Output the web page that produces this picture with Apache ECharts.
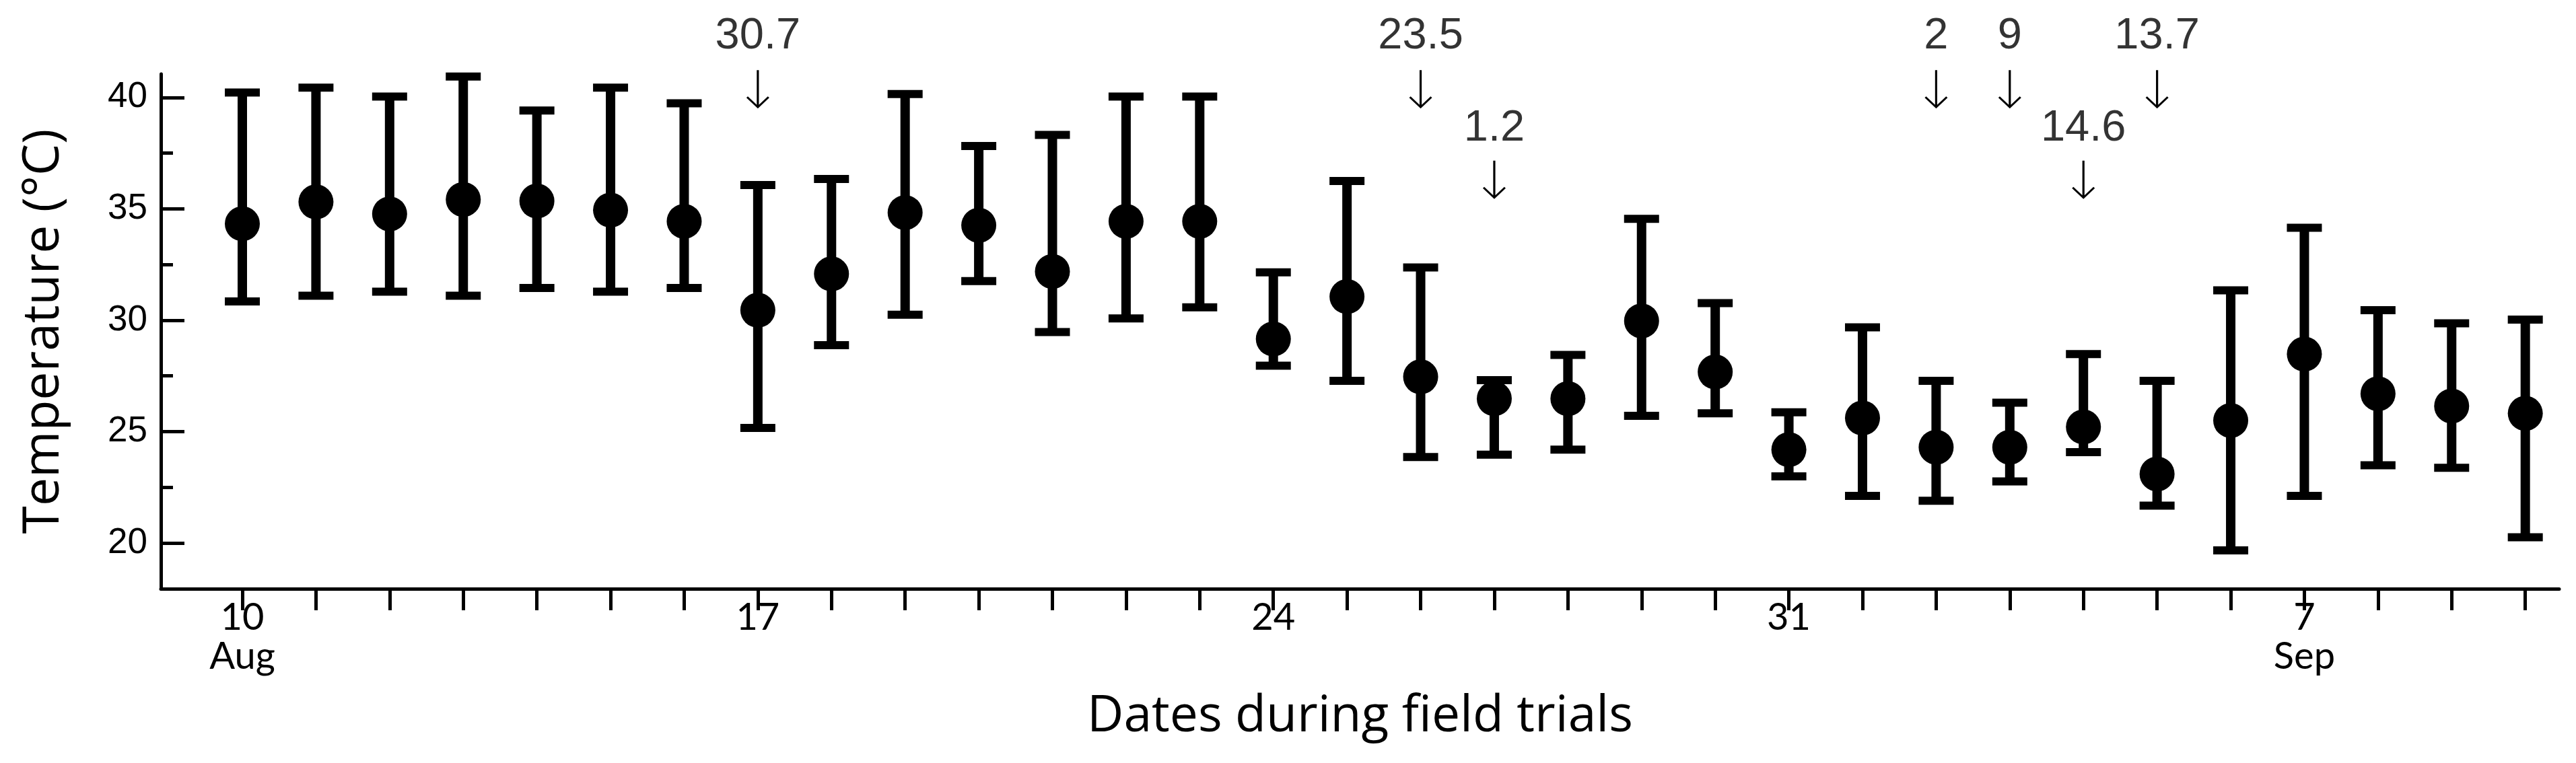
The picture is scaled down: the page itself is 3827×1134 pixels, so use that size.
<!DOCTYPE html>
<html><head><meta charset="utf-8">
<script src="https://cdn.jsdelivr.net/npm/echarts@6/dist/echarts.min.js"></script>
<style>html,body{margin:0;padding:0;background:#fff}#c{width:3827px;height:1134px}</style>
</head><body><div id="c"></div>
<script>
// ---- data ----
const dates = ['Aug 10','Aug 11','Aug 12','Aug 13','Aug 14','Aug 15','Aug 16','Aug 17','Aug 18','Aug 19','Aug 20','Aug 21','Aug 22','Aug 23','Aug 24','Aug 25','Aug 26','Aug 27','Aug 28','Aug 29','Aug 30','Aug 31','Sep 1','Sep 2','Sep 3','Sep 4','Sep 5','Sep 6','Sep 7','Sep 8','Sep 9','Sep 10'];
const meanTemp  = [34.33,35.31,34.77,35.42,35.35,34.94,34.44,30.45,32.08,34.83,34.26,32.19,34.44,34.44,29.16,31.06,27.46,26.48,26.48,29.97,27.68,24.19,25.61,24.30,24.30,25.21,23.10,25.50,28.48,26.70,26.15,25.82];
const upperTemp = [40.22,40.44,40.04,40.94,39.41,40.44,39.74,36.07,36.34,40.15,37.82,38.32,40.04,40.04,32.15,36.25,32.37,27.31,28.44,34.55,30.77,25.87,29.68,27.28,26.30,28.48,27.28,31.34,34.15,30.45,29.86,30.03];
const lowerTemp = [30.84,31.10,31.28,31.10,31.45,31.28,31.45,25.17,28.88,30.25,31.76,29.47,30.08,30.58,27.96,27.28,23.86,23.97,24.19,25.71,25.82,22.99,22.12,21.90,22.77,24.08,21.68,19.67,22.12,23.49,23.38,20.26];
const yTickMajor = [20,25,30,35,40];
const yTickMinor = [22.5,27.5,32.5,37.5];
const xLabelDates = ['Aug 10','Aug 17','Aug 24','Aug 31','Sep 7'];
const xLabelTexts = ['10\nAug','17','24','31','7\nSep'];
const rainDates = ['Aug 17','Aug 26','Aug 27','Sep 2','Sep 3','Sep 4','Sep 5'];
const rainTexts = ['30.7','23.5','1.2','2','9','14.6','13.7'];

// ---- layout ----
const rainRow = [1,1,2,1,1,2,1];
const rowTextY = {1: 42.73, 2: 38.59};
const rowArrowY = {1: 40.36, 2: 36.30};
const arrowPath = 'path://M15.5,0 L18.5,0 L18.5,51 L31,38.5 L33,40.5 L17,56.5 L1,40.5 L3,38.5 L15.5,51 Z';

const chart = echarts.init(document.getElementById('c'), null, {renderer:'canvas'});
const idx = d => dates.indexOf(d);

const option = {
  backgroundColor: '#fff',
  animation: false,
  grid: {left: 239, right: 25, top: 110, bottom: 259},
  xAxis: {
    type: 'value', min: -1.106, max: 31.46,
    axisLine: {show: true, onZero: false, lineStyle: {color: '#000', width: 5}},
    axisTick: {show: true, inside: false, length: 32, lineStyle: {color: '#000', width: 5},
      customValues: dates.map((d, i) => i)},
    axisLabel: {show: true, customValues: xLabelDates.map(idx), margin: 14,
      formatter: v => xLabelTexts[xLabelDates.indexOf(dates[Math.round(v)])] || '',
      fontFamily: 'Lato', fontSize: 56, lineHeight: 58, color: '#000'},
    splitLine: {show: false},
    name: 'Dates during field trials', nameLocation: 'middle', nameGap: 153,
    nameTextStyle: {fontFamily: 'Open Sans', fontSize: 75, color: '#000'}
  },
  yAxis: [{
    type: 'value', min: 17.95, max: 41.05,
    axisLine: {show: true, onZero: false, lineStyle: {color: '#000', width: 5}},
    axisTick: {show: true, inside: true, length: 35, lineStyle: {color: '#000', width: 5}, customValues: yTickMajor},
    axisLabel: {show: true, customValues: yTickMajor, margin: 20, fontFamily: 'Liberation Sans', fontSize: 53, color: '#000'},
    splitLine: {show: false},
    name: 'Temperature (°C)', nameLocation: 'middle', nameGap: 136, nameRotate: 90,
    nameTextStyle: {fontFamily: 'Open Sans', fontSize: 75, color: '#000'}
  }, {
    type: 'value', min: 17.95, max: 41.05, position: 'left',
    axisLine: {show: false, onZero: false},
    axisTick: {show: true, inside: true, length: 18, lineStyle: {color: '#000', width: 5}, customValues: yTickMinor},
    axisLabel: {show: false},
    splitLine: {show: false}
  }],
  series: [{
    type: 'custom',
    data: dates.map((d, i) => [i, lowerTemp[i], upperTemp[i]]),
    renderItem: (params, api) => {
      const x = api.value(0);
      const lo = api.coord([x, api.value(1)]);
      const hi = api.coord([x, api.value(2)]);
      const hw = 26;
      return {type: 'group', children: [
        {type: 'line', shape: {x1: lo[0], y1: lo[1], x2: hi[0], y2: hi[1]}, style: {stroke: '#000', lineWidth: 14}},
        {type: 'line', shape: {x1: hi[0] - hw, y1: hi[1], x2: hi[0] + hw, y2: hi[1]}, style: {stroke: '#000', lineWidth: 12}},
        {type: 'line', shape: {x1: lo[0] - hw, y1: lo[1], x2: lo[0] + hw, y2: lo[1]}, style: {stroke: '#000', lineWidth: 12}}
      ]};
    },
    z: 2
  }, {
    type: 'scatter',
    data: dates.map((d, i) => [i, meanTemp[i]]),
    symbol: 'circle', symbolSize: 52,
    itemStyle: {color: '#000', opacity: 1},
    emphasis: {disabled: true},
    z: 3
  }, {
    type: 'scatter', clip: false,
    data: rainDates.map((d, i) => [idx(d), rowTextY[rainRow[i]], rainTexts[i]]),
    symbol: 'circle', symbolSize: 1,
    itemStyle: {color: 'rgba(0,0,0,0)'},
    label: {show: true, position: 'inside', formatter: p => p.value[2],
      fontFamily: 'Liberation Sans', fontSize: 65, color: '#000'},
    z: 4
  }, {
    type: 'scatter', clip: false,
    data: rainDates.map((d, i) => [idx(d), rowArrowY[rainRow[i]]]),
    symbol: arrowPath, symbolSize: [34, 57],
    itemStyle: {color: '#000', opacity: 1},
    emphasis: {disabled: true},
    z: 4
  }]
};
chart.setOption(option);
</script>
</body></html>
